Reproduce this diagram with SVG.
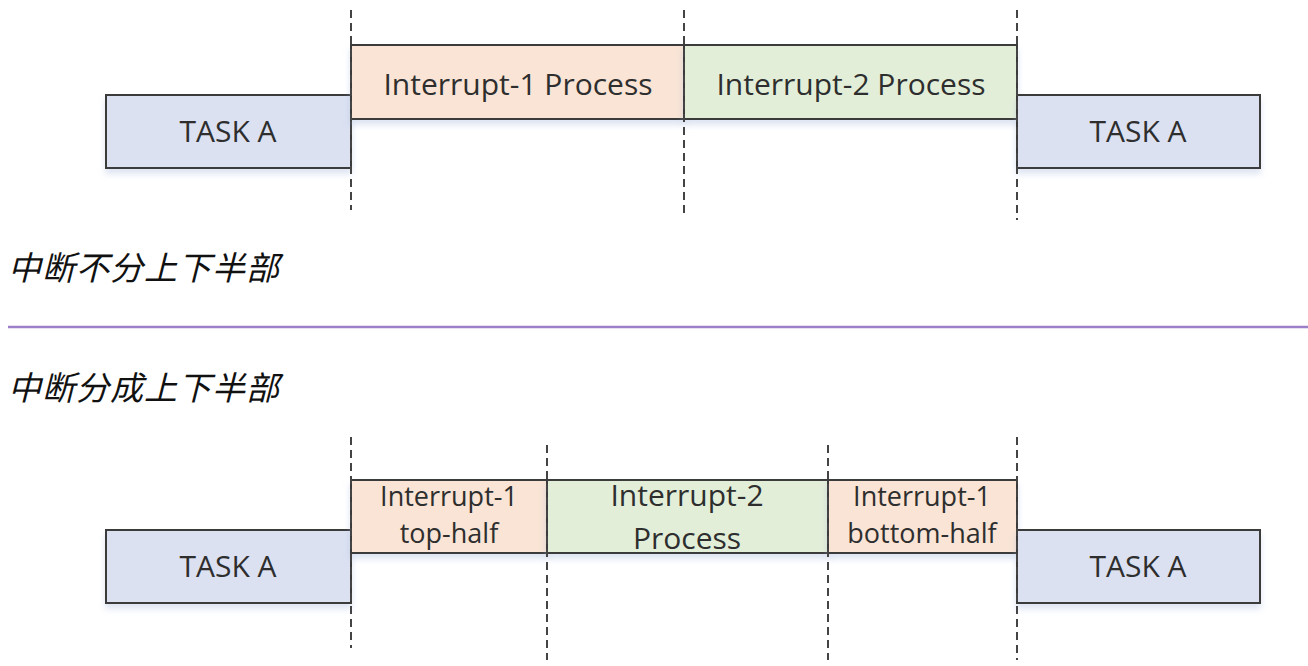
<svg xmlns="http://www.w3.org/2000/svg" width="1308" height="666" viewBox="0 0 1308 666">
<style>
.box{stroke:#3a3a3a;stroke-width:2}
.task{fill:#dbe1f1}
.i1{fill:#f9e4d5}
.i2{fill:#e3eed9}
.lbl{font-family:"Open Sans","Noto Sans",sans-serif;font-size:30px;fill:#2e2e2e;text-anchor:middle}
.sm{font-size:27px}
.cn{font-family:"Noto Sans CJK SC",sans-serif;font-size:33px;font-style:italic;letter-spacing:1px;fill:#111}
.dash{stroke:#444;stroke-width:2;stroke-dasharray:8 5;fill:none}
</style>
<defs>
<filter id="sh" x="-5%" y="-10%" width="110%" height="140%">
<feDropShadow dx="0" dy="5" stdDeviation="3" flood-color="#9fb3d9" flood-opacity="0.35"/>
</filter>
</defs>
<rect width="1308" height="666" fill="#fff"/>

<g id="top-task-a-left"><rect class="box task" x="106" y="95" width="245" height="73" filter="url(#sh)"/><text class="lbl" x="228" y="142">TASK A</text></g>
<g id="top-int1"><rect class="box i1" x="351" y="45" width="333" height="74" filter="url(#sh)"/><text class="lbl" x="518" y="95">Interrupt-1 Process</text></g>
<g id="top-int2"><rect class="box i2" x="684" y="45" width="333" height="74" filter="url(#sh)"/><text class="lbl" x="851" y="95">Interrupt-2 Process</text></g>
<g id="top-task-a-right"><rect class="box task" x="1017" y="95" width="243" height="73" filter="url(#sh)"/><text class="lbl" x="1138" y="142">TASK A</text></g>

<g id="label-no-split"><text class="cn" x="8" y="280">中断不分上下半部</text></g>
<g id="divider"><line x1="8" y1="327" x2="1308" y2="327" stroke="#9b80c9" stroke-width="2.5"/></g>
<g id="label-split"><text class="cn" x="8" y="400">中断分成上下半部</text></g>

<g id="bot-task-a-left"><rect class="box task" x="106" y="530" width="245" height="73" filter="url(#sh)"/><text class="lbl" x="228" y="577">TASK A</text></g>
<g id="bot-int1-top"><rect class="box i1" x="351" y="480" width="196" height="73" filter="url(#sh)"/><text class="lbl sm" x="449" y="506">Interrupt-1</text><text class="lbl sm" x="449" y="543">top-half</text></g>
<g id="bot-int2"><rect class="box i2" x="547" y="480" width="281" height="73" filter="url(#sh)"/><text class="lbl" x="687" y="506">Interrupt-2</text><text class="lbl" x="687" y="549">Process</text></g>
<g id="bot-int1-bottom"><rect class="box i1" x="828" y="480" width="189" height="73" filter="url(#sh)"/><text class="lbl sm" x="922" y="506">Interrupt-1</text><text class="lbl sm" x="922" y="543">bottom-half</text></g>
<g id="bot-task-a-right"><rect class="box task" x="1017" y="530" width="243" height="73" filter="url(#sh)"/><text class="lbl" x="1138" y="577">TASK A</text></g>

<g id="connectors">
<line class="dash" x1="351" y1="10" x2="351" y2="210"/>
<line class="dash" x1="684" y1="10" x2="684" y2="218"/>
<line class="dash" x1="1017" y1="10" x2="1017" y2="220"/>
<line class="dash" x1="351" y1="437" x2="351" y2="648"/>
<line class="dash" x1="547" y1="445" x2="547" y2="660"/>
<line class="dash" x1="828" y1="445" x2="828" y2="660"/>
<line class="dash" x1="1017" y1="437" x2="1017" y2="660"/>
</g>
</svg>
